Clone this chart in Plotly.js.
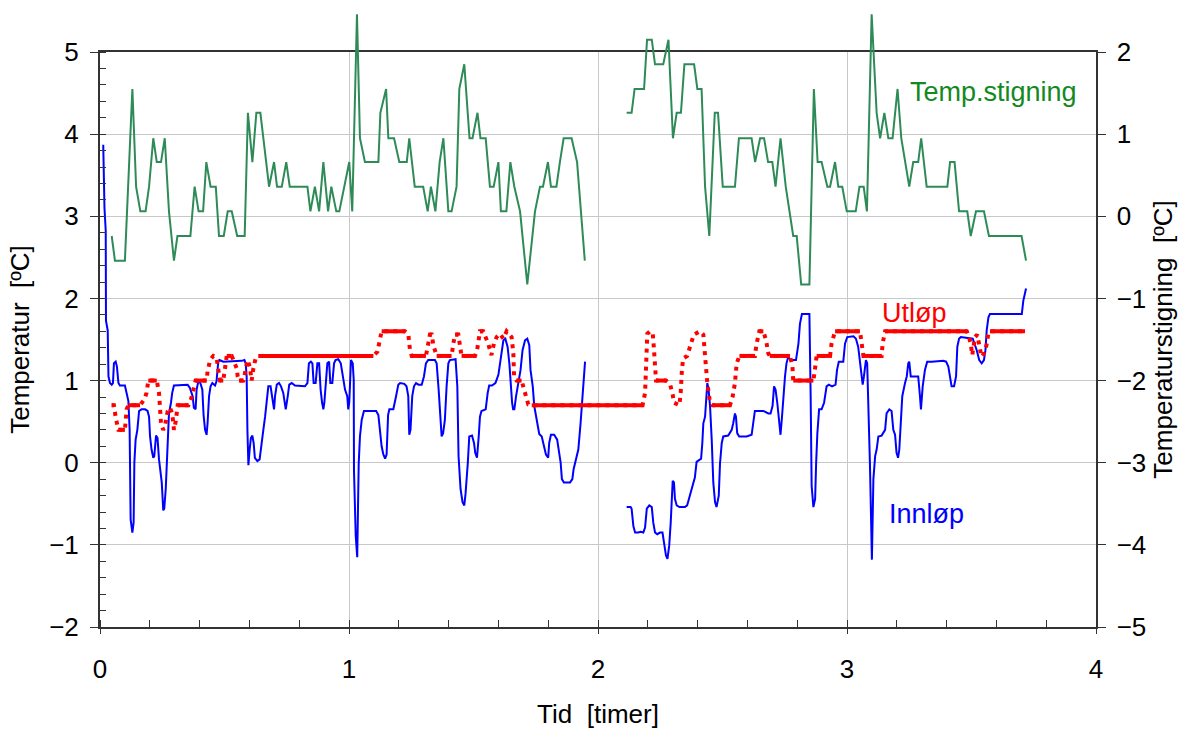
<!DOCTYPE html>
<html>
<head>
<meta charset="utf-8">
<script src="https://cdn.plot.ly/plotly-3.0.1.min.js"></script>
<style>html,body{margin:0;padding:0;background:#fff;}#chart{width:1182px;height:733px;}</style>
</head>
<body>
<div id="chart"></div>
<script>
// ---- Innløp (blue, left axis) ----
const tInn = [0.013,0.018,0.023,0.024,0.031,0.034,0.040,0.047,0.052,0.056,0.063,0.068,0.074,0.080,0.100,0.107,0.114,0.119,0.123,0.130,0.135,0.138,0.143,0.150,0.157,0.167,0.181,0.191,0.197,0.201,0.207,0.214,0.218,0.225,0.231,0.237,0.242,0.248,0.254,0.258,0.264,0.268,0.272,0.277,0.285,0.290,0.297,0.341,0.352,0.361,0.372,0.377,0.384,0.388,0.395,0.403,0.411,0.416,0.422,0.428,0.432,0.438,0.444,0.451,0.462,0.468,0.475,0.480,0.495,0.569,0.580,0.585,0.589,0.592,0.596,0.601,0.606,0.612,0.617,0.622,0.632,0.641,0.649,0.656,0.663,0.669,0.676,0.685,0.692,0.699,0.703,0.710,0.719,0.727,0.736,0.746,0.754,0.760,0.770,0.783,0.823,0.833,0.839,0.847,0.853,0.858,0.866,0.873,0.880,0.886,0.892,0.897,0.901,0.906,0.913,0.920,0.925,0.933,0.940,0.946,0.957,0.967,0.975,0.984,0.993,0.997,1.001,1.008,1.015,1.019,1.020,1.027,1.033,1.039,1.044,1.051,1.060,1.109,1.118,1.124,1.131,1.138,1.145,1.151,1.157,1.162,1.178,1.189,1.198,1.205,1.222,1.231,1.238,1.242,1.247,1.254,1.261,1.269,1.279,1.292,1.301,1.309,1.318,1.345,1.352,1.360,1.365,1.372,1.378,1.385,1.392,1.399,1.405,1.428,1.435,1.440,1.448,1.456,1.463,1.468,1.477,1.483,1.494,1.502,1.507,1.514,1.521,1.526,1.532,1.549,1.557,1.563,1.574,1.588,1.600,1.606,1.613,1.620,1.628,1.637,1.644,1.649,1.655,1.659,1.664,1.671,1.680,1.689,1.697,1.707,1.716,1.724,1.729,1.738,1.744,1.754,1.764,1.774,1.783,1.791,1.800,1.804,1.811,1.824,1.836,1.844,1.850,1.855,1.863,1.888,1.897,1.902,1.911,1.921,1.930,1.937,1.948,2.030,
2.115,2.131,2.135,2.142,2.149,2.162,2.171,2.182,2.189,2.196,2.206,2.216,2.222,2.229,2.238,2.249,2.259,2.266,2.273,2.279,2.286,2.292,2.296,2.300,2.305,2.309,2.316,2.327,2.349,2.358,2.369,2.379,2.389,2.396,2.406,2.414,2.419,2.423,2.430,2.434,2.439,2.444,2.450,2.457,2.463,2.470,2.476,2.485,2.490,2.497,2.503,2.523,2.537,2.543,2.550,2.554,2.559,2.567,2.597,2.617,2.624,2.630,2.664,2.684,2.693,2.701,2.707,2.713,2.720,2.727,2.733,2.739,2.744,2.751,2.757,2.764,2.774,2.795,2.805,2.811,2.819,2.849,2.854,2.858,2.865,2.872,2.876,2.881,2.888,2.898,2.908,2.918,2.927,2.940,2.954,2.960,2.967,2.985,2.992,3.001,3.026,3.036,3.045,3.052,3.059,3.063,3.068,3.076,3.081,3.085,3.092,3.100,3.106,3.113,3.119,3.126,3.139,3.153,3.159,3.170,3.179,3.186,3.193,3.199,3.205,3.210,3.215,3.222,3.233,3.240,3.246,3.250,3.256,3.286,3.293,3.297,3.304,3.313,3.322,3.340,3.387,3.398,3.407,3.414,3.420,3.430,3.438,3.443,3.450,3.457,3.491,3.505,3.521,3.531,3.541,3.550,3.556,3.561,3.568,3.574,3.702,3.708,3.719];
const innlop = [3.87,3.10,2.82,1.73,1.61,1.05,0.97,0.95,0.97,1.21,1.23,1.17,0.97,0.94,0.94,0.85,0.75,0.40,-0.69,-0.85,-0.73,0.00,0.28,0.40,0.63,0.65,0.65,0.63,0.56,0.32,0.16,0.06,0.08,0.33,0.30,0.04,-0.12,-0.24,-0.58,-0.56,-0.32,0.00,0.40,0.60,0.73,0.85,0.94,0.95,0.95,0.91,0.81,0.67,0.65,0.89,0.99,0.97,0.89,0.58,0.40,0.34,0.48,0.81,0.93,0.97,0.94,0.99,1.23,1.25,1.23,1.24,1.25,1.21,1.05,0.40,-0.03,0.16,0.30,0.33,0.24,0.06,0.02,0.04,0.20,0.40,0.56,0.73,0.93,0.93,0.81,0.65,0.81,0.95,0.97,0.93,0.85,0.65,0.81,0.95,0.97,0.94,0.93,0.97,1.21,1.23,1.21,0.97,0.97,1.21,1.21,0.89,0.73,0.65,0.73,0.97,1.21,1.23,0.97,0.97,1.21,1.25,1.26,1.21,1.05,0.89,0.81,0.65,0.73,1.25,1.21,1.01,-0.09,-0.89,-1.15,-0.01,0.32,0.52,0.63,0.63,0.58,0.38,0.20,0.10,0.05,0.10,0.58,0.65,0.65,0.81,0.95,0.97,0.96,0.93,0.81,0.34,0.40,0.81,0.93,0.97,0.95,0.95,1.05,1.21,1.25,1.25,1.21,0.89,0.65,0.32,0.36,0.52,0.93,1.21,1.25,1.26,0.93,0.08,-0.32,-0.48,-0.52,-0.38,-0.01,0.32,0.33,0.24,0.12,0.06,0.32,0.56,0.63,0.65,0.85,0.94,0.94,0.97,1.07,1.21,1.37,1.49,1.51,1.41,1.21,0.97,0.73,0.65,0.65,0.81,0.97,1.13,1.37,1.49,1.51,1.43,1.13,0.93,0.69,0.50,0.35,0.32,0.20,0.10,0.06,0.24,0.34,0.34,0.28,0.10,0.00,-0.20,-0.24,-0.24,-0.20,-0.08,0.02,0.16,0.48,0.81,1.23,null,
-0.54,-0.54,-0.56,-0.77,-0.85,-0.85,-0.84,-0.85,-0.79,-0.56,-0.52,-0.54,-0.73,-0.85,-0.87,-0.85,-0.85,-1.01,-1.13,-1.17,-1.01,-0.73,-0.40,-0.22,-0.24,-0.44,-0.52,-0.54,-0.54,-0.52,-0.40,-0.28,-0.18,0.01,0.03,0.05,0.24,0.48,0.56,0.73,0.97,0.89,0.69,0.26,-0.24,-0.48,-0.54,-0.40,-0.01,0.24,0.32,0.33,0.40,0.48,0.60,0.56,0.36,0.32,0.32,0.34,0.48,0.63,0.63,0.60,0.60,0.69,0.93,0.89,0.73,0.48,0.34,0.56,0.81,1.05,1.21,1.29,1.25,1.25,1.45,1.69,1.81,1.81,0.81,-0.28,-0.54,-0.44,-0.01,0.36,0.65,0.65,0.73,0.93,0.95,0.93,0.95,1.13,1.23,1.23,1.45,1.53,1.54,1.51,1.41,1.21,1.05,0.95,1.05,1.25,1.21,0.81,0.00,-1.18,-0.20,0.08,0.16,0.32,0.33,0.40,0.60,0.65,0.63,0.40,0.34,0.12,0.06,0.16,0.48,0.81,0.97,1.05,1.21,1.23,1.05,1.05,0.81,0.65,0.93,1.13,1.23,1.23,1.24,1.23,1.17,1.05,0.93,0.93,1.05,1.41,1.51,1.53,1.52,1.51,1.37,1.25,1.21,1.25,1.37,1.61,1.77,1.81,1.81,1.97,2.12];

// ---- Utløp (red, left axis) ----
const tUt = [0.047,0.056,0.063,0.068,0.074,0.100,0.104,0.107,0.114,0.161,0.178,0.187,0.194,0.228,0.237,0.241,0.245,0.254,0.261,0.272,0.281,0.290,0.297,0.304,0.312,0.355,0.365,0.372,0.384,0.428,0.432,0.442,0.455,0.468,0.475,0.482,0.495,0.502,0.509,0.529,0.549,0.553,0.558,0.576,0.586,0.593,0.602,0.609,0.616,0.625,0.636,1.098,1.114,1.122,1.131,1.225,1.238,1.245,1.252,1.309,1.318,1.325,1.332,1.339,1.352,1.412,1.419,1.426,1.439,1.446,1.452,1.506,1.515,1.526,1.539,1.559,1.572,1.582,1.593,1.606,1.620,1.633,1.640,1.653,1.660,1.663,1.673,1.693,1.707,1.720,1.734,2.179,2.189,2.193,2.198,2.209,2.220,2.225,2.233,2.273,2.289,2.300,2.305,2.327,2.332,2.337,2.342,2.358,2.376,2.385,2.410,2.423,2.430,2.439,2.450,2.460,2.530,2.541,2.550,2.557,2.568,2.630,2.637,2.648,2.664,2.675,2.684,2.690,2.771,2.781,2.784,2.865,2.871,2.878,2.932,2.938,2.952,3.052,3.059,3.066,3.139,3.143,3.153,3.481,3.487,3.497,3.503,3.514,3.523,3.534,3.540,3.550,3.560,3.567,3.574,3.715];
const utlop = [0.7,0.7,0.55,0.45,0.4,0.4,0.52,0.65,0.7,0.7,0.77,0.85,1.0,1.0,0.85,0.65,0.48,0.4,0.45,0.63,0.67,0.6,0.4,0.5,0.7,0.7,0.77,0.85,1.0,1.0,1.11,1.25,1.3,1.28,1.15,1.0,1.0,1.13,1.3,1.3,1.15,1.05,1.0,1.0,1.16,1.25,1.16,1.0,1.15,1.27,1.3,1.3,1.35,1.49,1.6,1.6,1.57,1.37,1.3,1.3,1.45,1.56,1.56,1.43,1.3,1.3,1.45,1.56,1.56,1.43,1.3,1.3,1.38,1.6,1.6,1.45,1.31,1.45,1.53,1.57,1.51,1.6,1.57,1.53,1.33,1.05,1.0,1.0,0.85,0.71,0.7,0.7,0.85,1.29,1.57,1.6,1.57,1.37,1.0,1.0,0.96,0.83,0.73,0.7,0.85,1.13,1.27,1.3,1.45,1.56,1.6,1.56,1.3,0.97,0.73,0.7,0.7,0.81,0.97,1.21,1.3,1.3,1.45,1.6,1.6,1.49,1.33,1.3,1.3,1.17,1.0,1.0,1.13,1.3,1.3,1.45,1.6,1.6,1.45,1.3,1.3,1.45,1.6,1.6,1.56,1.45,1.31,1.53,1.56,1.37,1.29,1.33,1.43,1.56,1.6,1.6];

// ---- Temp.stigning (green, right axis) ----
const tStig = [0.047,0.060,0.100,0.130,0.145,0.162,0.183,0.197,0.214,0.228,0.245,0.260,0.277,0.297,0.311,0.363,0.380,0.396,0.414,0.427,0.444,0.465,0.478,0.497,0.513,0.529,0.551,0.581,0.594,0.612,0.628,0.644,0.679,0.699,0.711,0.730,0.748,0.762,0.833,0.845,0.863,0.880,0.897,0.916,0.929,0.949,0.961,1.001,1.013,1.032,1.044,1.064,1.118,1.126,1.149,1.158,1.181,1.202,1.232,1.242,1.264,1.298,1.316,1.329,1.347,1.364,1.379,1.399,1.412,1.432,1.443,1.463,1.484,1.496,1.516,1.528,1.549,1.566,1.581,1.600,1.610,1.632,1.648,1.664,1.687,1.716,1.747,1.767,1.779,1.799,1.811,1.833,1.847,1.862,1.894,1.916,1.947,2.030,
2.115,2.135,2.147,2.185,2.197,2.216,2.229,2.262,2.283,2.301,2.316,2.333,2.347,2.386,2.399,2.416,2.430,2.447,2.469,2.482,2.501,2.550,2.566,2.617,2.631,2.651,2.667,2.683,2.700,2.713,2.733,2.754,2.784,2.798,2.816,2.849,2.867,2.882,2.898,2.921,2.932,2.952,2.965,2.981,2.999,3.035,3.050,3.067,3.080,3.099,3.119,3.133,3.150,3.166,3.183,3.203,3.218,3.233,3.250,3.266,3.286,3.298,3.320,3.403,3.414,3.432,3.450,3.483,3.497,3.518,3.550,3.570,3.701,3.719];
const stigning = [-0.24,-0.54,-0.54,1.55,0.36,0.06,0.06,0.36,0.95,0.66,0.66,0.95,0.06,-0.54,-0.24,-0.24,0.36,0.06,0.06,0.66,0.36,0.36,-0.24,-0.24,0.06,0.06,-0.24,-0.24,1.26,0.66,1.26,1.26,0.36,0.66,0.36,0.36,0.66,0.36,0.36,0.06,0.36,0.06,0.66,0.06,0.36,0.06,0.06,0.66,0.06,2.46,0.95,0.66,0.66,1.26,1.55,0.95,0.95,0.66,0.66,0.95,0.36,0.36,0.06,0.36,0.06,0.66,0.95,0.06,0.06,0.36,1.55,1.85,0.95,0.95,1.26,0.95,0.95,0.36,0.36,0.66,0.06,0.06,0.66,0.36,0.06,-0.83,0.06,0.36,0.36,0.66,0.36,0.36,0.66,0.95,0.95,0.66,-0.54,null,
1.26,1.26,1.55,1.55,2.15,2.15,1.85,1.85,2.15,0.95,1.26,1.26,1.85,1.85,1.55,1.55,0.36,-0.24,1.26,1.26,0.36,0.36,0.95,0.95,0.66,0.95,0.95,0.66,0.66,0.36,0.95,0.36,-0.24,-0.24,-0.83,-0.83,1.55,0.66,0.66,0.36,0.36,0.66,0.36,0.36,0.06,0.06,0.36,0.36,0.06,2.46,1.26,0.95,1.26,0.95,0.95,1.55,0.95,0.66,0.36,0.66,0.66,0.95,0.36,0.36,0.66,0.66,0.06,0.06,-0.24,0.06,0.06,-0.24,-0.24,-0.54];

// Solid parts of the outlet curve: the flat stretches (equal neighbouring values)
const utlopFlat = utlop.map((v, i) =>
  (i > 0 && utlop[i - 1] === v) || (i < utlop.length - 1 && utlop[i + 1] === v) ? v : null);

const FONT = 'Arial, "Liberation Sans", sans-serif';
const AX = '#333333';
const FS = 26;

// Geometry: the framed plot box runs from 52px to 627px; the green curve may overshoot the
// top of the box (as in the original), so it sits on an invisible twin axis that reaches higher.
const H = 733, MT = 10, MB = 106;
const areaH = H - MT - MB;
const boxH = 575;
const boxFrac = boxH / areaH;
const pxPerUnit = boxH / 7;
const y3Top = 2 + (areaH - boxH) / pxPerUnit;

const traces = [
  {x: tInn, y: innlop, type: 'scatter', mode: 'lines', name: 'Innløp',
   line: {color: '#0000ff', width: 2}, connectgaps: false, hoverinfo: 'skip'},
  // empty carrier so the right-hand axis (y2) is created and drawn
  {x: [], y: [], type: 'scatter', mode: 'lines', yaxis: 'y2', showlegend: false, hoverinfo: 'skip'},
  {x: tStig, y: stigning, type: 'scatter', mode: 'lines', name: 'Temp.stigning',
   xaxis: 'x2', yaxis: 'y3',
   line: {color: '#2e8b57', width: 2}, connectgaps: false, hoverinfo: 'skip'},
  {x: tUt, y: utlop, type: 'scatter', mode: 'lines', name: 'Utløp',
   line: {color: '#ff0000', width: 4, dash: '4px,5px'}, hoverinfo: 'skip'},
  {x: tUt, y: utlopFlat, type: 'scatter', mode: 'lines', name: 'Utløp (flat)',
   line: {color: '#ff0000', width: 4}, connectgaps: false, hoverinfo: 'skip'}
];

const layout = {
  width: 1182, height: H,
  margin: {l: 100, r: 86, t: MT, b: MB},
  paper_bgcolor: '#ffffff', plot_bgcolor: 'rgba(0,0,0,0)',
  showlegend: false,
  font: {family: FONT, size: FS, color: '#000'},
  xaxis: {
    range: [0, 4], dtick: 1, tick0: 0, anchor: 'y',
    showgrid: true, gridcolor: '#c8c8c8', gridwidth: 1,
    zeroline: false, showline: true, linecolor: AX, linewidth: 2, mirror: true,
    ticks: 'outside', ticklen: 5, tickcolor: AX, tickwidth: 1,
    minor: {dtick: 0.2, ticks: 'inside', ticklen: 7, tickcolor: AX, showgrid: false},
    tickfont: {family: FONT, size: FS}, ticklabelstandoff: 13,
    title: {text: 'Tid \u00a0[timer]', font: {family: FONT, size: FS}, standoff: 22}
  },
  xaxis2: {range: [0, 4], anchor: 'y3', visible: false, showgrid: false, zeroline: false},
  yaxis: {
    range: [-2, 5], dtick: 1, tick0: 0, domain: [0, boxFrac], anchor: 'x',
    showgrid: true, gridcolor: '#c8c8c8', gridwidth: 1,
    zeroline: false, showline: true, linecolor: AX, linewidth: 2,
    ticks: 'outside', ticklen: 8, tickcolor: AX, tickwidth: 1,
    minor: {dtick: 0.2, ticks: 'inside', ticklen: 6, tickcolor: AX, showgrid: false},
    tickfont: {family: FONT, size: FS}, ticklabelstandoff: 6,
    title: {text: 'Temperatur \u00a0[ºC]', font: {family: FONT, size: FS}, standoff: 12}
  },
  yaxis2: {
    range: [-5, 2], dtick: 1, tick0: 0, overlaying: 'y', side: 'right', anchor: 'x',
    domain: [0, boxFrac],
    showgrid: false, zeroline: false, showline: true, linecolor: AX, linewidth: 1.5,
    ticks: 'outside', ticklen: 8, tickcolor: AX, tickwidth: 1,
    tickfont: {family: FONT, size: FS}, ticklabelstandoff: 6,
    title: {text: 'Temperaturstigning \u00a0[ºC]', font: {family: FONT, size: FS}, standoff: 8}
  },
  yaxis3: {range: [-5, y3Top], domain: [0, 1], anchor: 'x2', visible: false,
           showgrid: false, zeroline: false},
  annotations: [
    {xref: 'x', yref: 'y', x: 3.59, y: 4.51, text: 'Temp.stigning', showarrow: false,
     font: {family: FONT, size: 27, color: '#13891f'}},
    {xref: 'x', yref: 'y', x: 3.27, y: 1.82, text: 'Utløp', showarrow: false,
     font: {family: FONT, size: 27, color: '#ff0000'}},
    {xref: 'x', yref: 'y', x: 3.32, y: -0.63, text: 'Innløp', showarrow: false,
     font: {family: FONT, size: 27, color: '#0000ff'}}
  ]
};

Plotly.newPlot('chart', traces, layout, {staticPlot: true, displayModeBar: false});
</script>
</body>
</html>
